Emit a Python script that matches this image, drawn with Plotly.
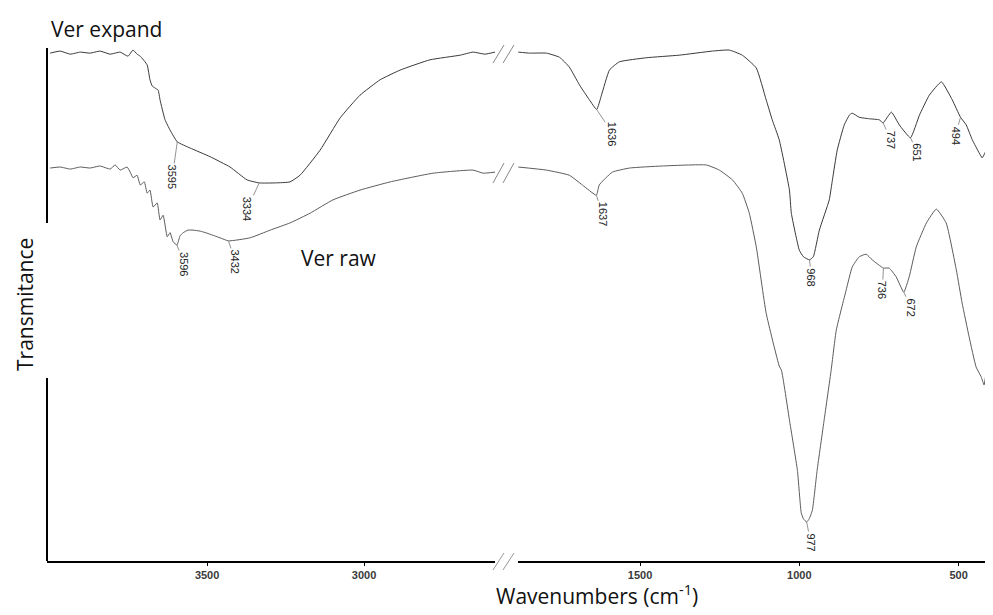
import plotly.graph_objects as go

# ---------------- data (wavenumber cm-1, transmittance a.u.) ----------------
exp_hi_wn = [4000, 3968, 3936, 3904, 3873, 3841, 3809, 3777, 3752, 3736, 3723, 3713, 3691, 3682,
             3675, 3666, 3656, 3650, 3634, 3618, 3595, 3554, 3490, 3427, 3373, 3334, 3283, 3236,
             3204, 3140, 3076, 3013, 2949, 2885, 2790, 2694, 2653, 2615, 2583]
exp_hi_t = [99.0, 99.4, 98.8, 99.2, 99.0, 99.4, 98.8, 99.2, 98.4, 99.6, 98.8, 98.4, 96.7, 93.8,
            92.6, 92.2, 91.8, 89.9, 86.0, 84.0, 81.7, 80.5, 78.8, 76.8, 74.3, 73.7, 73.7, 73.9,
            75.2, 80.1, 86.4, 90.8, 93.8, 95.7, 97.7, 98.6, 99.2, 98.8, 99.2]

exp_lo_wn = [1882, 1847, 1794, 1753, 1722, 1690, 1659, 1636, 1621, 1596, 1565, 1480, 1377, 1273,
             1220, 1179, 1135, 1104, 1085, 1063, 1031, 1025, 1000, 987, 968, 956, 937, 906, 896,
             881, 859, 843, 834, 812, 780, 749, 737, 711, 686, 651, 623, 592, 554, 520, 494, 476,
             457, 435, 426, 416, 410]
exp_lo_t = [99.2, 99.0, 99.0, 98.2, 96.3, 92.8, 89.9, 88.0, 90.8, 95.7, 97.3, 98.1, 98.6, 99.4,
            99.6, 98.6, 96.1, 89.9, 86.0, 82.1, 72.3, 67.8, 60.6, 59.3, 58.7, 59.3, 64.5, 70.4,
            74.3, 80.1, 85.0, 86.9, 87.3, 86.5, 86.2, 86.0, 85.4, 87.5, 85.0, 82.5, 86.9, 90.8,
            93.4, 89.9, 86.5, 85.0, 82.1, 79.5, 78.6, 79.7, 80.5]

raw_hi_wn = [4000, 3968, 3936, 3904, 3873, 3841, 3809, 3793, 3777, 3755, 3745, 3736, 3723, 3713,
             3700, 3691, 3682, 3672, 3659, 3650, 3640, 3627, 3618, 3608, 3596, 3586, 3576, 3561,
             3545, 3522, 3500, 3459, 3432, 3363, 3299, 3236, 3172, 3099, 3013, 2917, 2780, 2653,
             2621, 2583]
raw_hi_t = [76.6, 76.8, 76.4, 76.8, 76.6, 77.0, 76.4, 77.2, 76.2, 76.8, 75.8, 74.7, 75.2, 73.3,
            73.9, 71.7, 72.3, 69.0, 69.8, 66.5, 67.4, 63.2, 64.0, 62.2, 61.6, 63.4, 64.0, 64.5,
            64.5, 64.3, 63.9, 63.0, 62.4, 63.0, 64.5, 65.9, 67.8, 70.4, 72.3, 73.9, 75.6, 76.2,
            75.6, 75.8]

raw_lo_wn = [1882, 1794, 1722, 1681, 1637, 1628, 1587, 1533, 1430, 1292, 1251, 1210, 1179, 1157,
             1135, 1104, 1063, 1056, 1031, 1006, 994, 987, 977, 969, 959, 944, 922, 900, 884, 853,
             834, 812, 790, 771, 736, 718, 696, 672, 655, 633, 601, 570, 539, 507, 489, 467, 445,
             429, 420, 413, 407]
raw_lo_t = [76.8, 76.2, 75.2, 73.3, 71.3, 73.3, 75.8, 76.6, 77.0, 77.2, 76.2, 74.3, 71.7, 67.8,
            61.2, 48.3, 38.0, 37.2, 27.5, 17.7, 9.4, 8.2, 7.6, 8.2, 9.9, 17.7, 27.5, 37.2, 45.0,
            52.8, 57.3, 59.3, 59.8, 58.7, 57.1, 57.1, 55.4, 52.4, 55.4, 61.2, 65.9, 68.6, 65.9,
            56.7, 50.3, 43.7, 37.8, 35.9, 34.3, 36.8, 35.7]

# peak labels: (axis, wavenumber, transmittance, text x-offset px, text y-offset px)
peak_axis = ["x", "x", "x", "x", "x2", "x2", "x2", "x2", "x2", "x2", "x2", "x2", "x2"]
peak_wn = [3595, 3334, 3596, 3432, 1636, 1637, 968, 737, 651, 494, 977, 736, 672]
peak_t = [81.7, 73.7, 61.6, 62.4, 88.0, 71.3, 58.7, 85.4, 82.5, 86.5, 7.6, 57.1, 52.4]
peak_dx = [-5, -12, 7, 7, 16, 6, 2, 8, 7, -5, 4, -1, 7]
peak_dy = [35, 26, 19, 21, 24, 19, 17, 17, 15, 18, 20, 22, 15]

x_left_range = [4010, 2583]
x_right_range = [1883, 392]
left_ticks = [3500, 3000]
right_ticks = [1500, 1000, 500]

# ---------------- figure ----------------
# the page body has an 8 px margin, so the figure is laid out in page coordinates minus 8
OFF = 8
W, H = 993, 615
ML, MT = 47 - OFF, 48 - OFF
MR = W - (993 - OFF)
MB = H - (561 - OFF)
PW = 946
PH = 513
left_dom = [0, 448 / PW]
right_dom = [471 / PW, 1]


def px(x):
    return (x - 47) / PW


def py(y):
    return (561 - y) / PH


c_exp = "#3a3a3a"
c_raw = "#5c5c5c"
smooth = dict(width=1, shape="spline", smoothing=0.4)

fig = go.Figure()
fig.add_trace(go.Scatter(x=exp_hi_wn, y=exp_hi_t, mode="lines", xaxis="x", yaxis="y",
                         line=dict(color=c_exp, **smooth), showlegend=False))
fig.add_trace(go.Scatter(x=raw_hi_wn, y=raw_hi_t, mode="lines", xaxis="x", yaxis="y",
                         line=dict(color=c_raw, **smooth), showlegend=False))
fig.add_trace(go.Scatter(x=exp_lo_wn, y=exp_lo_t, mode="lines", xaxis="x2", yaxis="y",
                         line=dict(color=c_exp, **smooth), showlegend=False))
fig.add_trace(go.Scatter(x=raw_lo_wn, y=raw_lo_t, mode="lines", xaxis="x2", yaxis="y",
                         line=dict(color=c_raw, **smooth), showlegend=False))

annotations = []
for ax_, wn, t, dx, dy in zip(peak_axis, peak_wn, peak_t, peak_dx, peak_dy):
    annotations.append(dict(x=wn, y=t, xref=ax_, yref="y", text=str(wn), textangle=90,
                            showarrow=True, arrowhead=0, arrowwidth=0.8, arrowcolor="#777",
                            ax=dx, ay=dy, font=dict(family="Arial", size=11, color="#222")))

label_font = dict(family="Open Sans", size=21, color="#111")
annotations += [
    dict(text="Ver expand", x=px(49), y=py(29), xref="paper", yref="paper", showarrow=False,
         xanchor="left", yanchor="middle", font=label_font),
    dict(text="Ver raw", x=px(299), y=py(258), xref="paper", yref="paper",
         showarrow=False, xanchor="left", yanchor="middle", font=label_font),
    dict(text="Transmitance", x=px(25), y=py(305), xref="paper", yref="paper",
         showarrow=False, textangle=-90, xanchor="center", yanchor="middle", font=label_font),
    dict(text="Wavenumbers (cm<sup>-1</sup>)", x=px(597), y=py(594),
         xref="paper", yref="paper", showarrow=False, xanchor="center", yanchor="middle",
         font=label_font),
]

shapes = [
    dict(type="line", xref="paper", yref="paper", x0=0, x1=0, y0=py(48), y1=py(223),
         line=dict(color="black", width=2)),
    dict(type="line", xref="paper", yref="paper", x0=0, x1=0, y0=py(378), y1=py(561),
         line=dict(color="black", width=2)),
]
# axis break marks
for ytop, ybot, col in [(45, 63, "#888"), (163, 183, "#888"), (553, 570, "#999")]:
    for x0 in (493, 503):
        shapes.append(dict(type="line", xref="paper", yref="paper",
                           x0=px(x0), y0=py(ybot), x1=px(x0 + 11), y1=py(ytop),
                           line=dict(color=col, width=1)))

axis_common = dict(showgrid=False, zeroline=False, showline=True, linecolor="black", linewidth=2,
                   ticks="outside", ticklen=3, tickcolor="black",
                   tickfont=dict(family="Arial", size=11, color="#3a3a3a", weight="bold"))

fig.update_layout(
    width=W, height=H,
    margin=dict(l=ML, r=MR, t=MT, b=MB),
    paper_bgcolor="white", plot_bgcolor="white",
    xaxis=dict(domain=left_dom, range=x_left_range, tickvals=left_ticks, anchor="y", **axis_common),
    xaxis2=dict(domain=right_dom, range=x_right_range, tickvals=right_ticks, anchor="y", **axis_common),
    yaxis=dict(range=[0, 100], showgrid=False, zeroline=False, showline=False,
               showticklabels=False, ticks=""),
    annotations=annotations,
    shapes=shapes,
)

fig.write_html("out.html")
